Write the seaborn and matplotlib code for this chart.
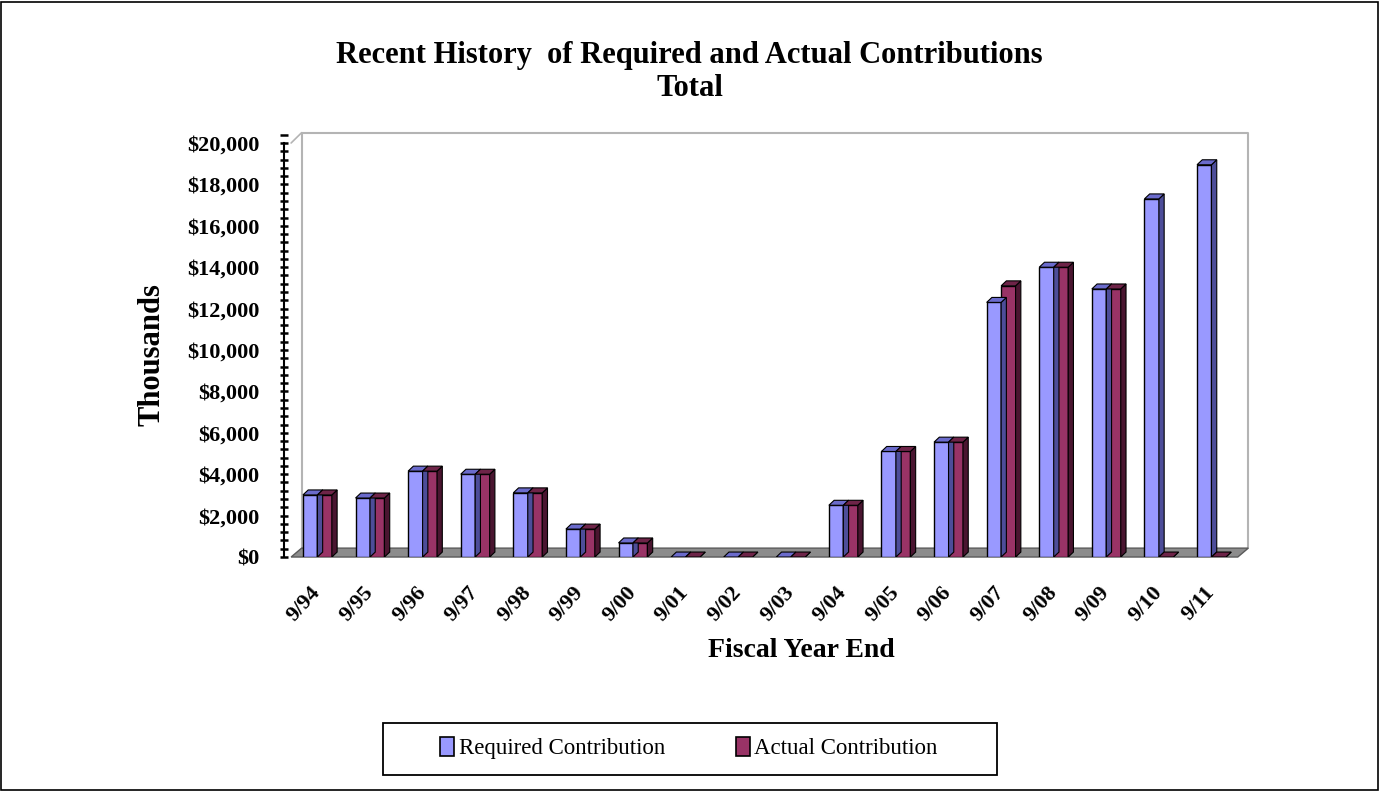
import pandas as pd
import matplotlib.pyplot as plt
import matplotlib.patches as mpatches
from matplotlib.ticker import MultipleLocator, FuncFormatter
import seaborn as sns

years = ["9/94", "9/95", "9/96", "9/97", "9/98", "9/99", "9/00", "9/01", "9/02",
         "9/03", "9/04", "9/05", "9/06", "9/07", "9/08", "9/09", "9/10", "9/11"]
required = [3000, 2850, 4150, 4000, 3100, 1350, 680, 0, 0,
            0, 2500, 5100, 5550, 12300, 14000, 12950, 17300, 18950]
actual = [3000, 2850, 4150, 4000, 3100, 1350, 680, 0, 0,
          0, 2500, 5100, 5550, 13100, 14000, 12950, 0, 0]
series_names = ["Required Contribution", "Actual Contribution"]

FRONT = ["#9999FF", "#993366"]
SIDE = ["#4D4D99", "#4A1530"]
TOP = ["#6B6BCC", "#6E2448"]

df = pd.DataFrame({
    "year": years * 2,
    "value": required + actual,
    "series": [series_names[0]] * len(years) + [series_names[1]] * len(years),
})

sns.set_style("white")
plt.rcParams["font.family"] = ["Liberation Serif", "DejaVu Serif"]
plt.rcParams["text.color"] = "black"
plt.rcParams["axes.labelcolor"] = "black"
plt.rcParams["xtick.color"] = "black"
plt.rcParams["ytick.color"] = "black"

fig = plt.figure(figsize=(13.79, 7.91), dpi=100)
ax = fig.add_axes([0.2111, 0.2958, 0.6865, 0.5365])

sns.barplot(data=df, x="year", y="value", hue="series", palette=FRONT,
            width=0.55, edgecolor="black", linewidth=1.0, saturation=1,
            legend=False, ax=ax, zorder=3)

ymax = 20500
ax.set_ylim(0, ymax)
ax.set_xlim(-0.5, len(years) - 0.5)

# 3D look: depth in data units
bdx, bdy = 0.1, 240      # bar depth
wdx, wdy = 0.2, 430      # wall / floor depth

# floor
x0, x1 = -0.5, len(years) - 0.5
floor = mpatches.Polygon([(x0, 0), (x1, 0), (x1 + wdx, wdy), (x0 + wdx, wdy)],
                         closed=True, facecolor="#8C8C8C", edgecolor="#5A5A5A",
                         lw=1, zorder=1, clip_on=False)
ax.add_patch(floor)
# back wall outline
ax.plot([x0 + wdx, x0 + wdx, x1 + wdx, x1 + wdx], [wdy, ymax, ymax, wdy],
        color="#B4B4B4", lw=1.5, zorder=0, clip_on=False)
ax.plot([x0, x0 + wdx], [20000, ymax], color="#B4B4B4", lw=1.2, zorder=0, clip_on=False)

for k, cont in enumerate(ax.containers):
    for bar in cont:
        bx, bw, bh = bar.get_x(), bar.get_width(), bar.get_height()
        side = mpatches.Polygon([(bx + bw, 0), (bx + bw + bdx, bdy),
                                 (bx + bw + bdx, bh + bdy), (bx + bw, bh)],
                                closed=True, facecolor=SIDE[k], edgecolor="black",
                                lw=0.8, zorder=3)
        top = mpatches.Polygon([(bx, bh), (bx + bw, bh), (bx + bw + bdx, bh + bdy),
                                (bx + bdx, bh + bdy)],
                               closed=True, facecolor=TOP[k], edgecolor="black",
                               lw=0.8, zorder=3)
        ax.add_patch(side)
        ax.add_patch(top)

for s in ["top", "right", "bottom"]:
    ax.spines[s].set_visible(False)
ax.spines["left"].set_color("black")
ax.spines["left"].set_linewidth(1.5)
ax.spines["left"].set_bounds(0, 20000)
ax.spines["left"].set_position(("outward", 5))

ax.yaxis.set_major_locator(MultipleLocator(2000))
ax.yaxis.set_minor_locator(MultipleLocator(400))
ax.yaxis.set_major_formatter(FuncFormatter(lambda v, p: f"${v:,.0f}"))
ax.tick_params(axis="y", which="both", direction="inout", length=6, width=1.8,
               left=True, labelsize=16, pad=15)
ax.tick_params(axis="x", length=0, labelsize=16, pad=23)
for lab in ax.get_yticklabels():
    lab.set_fontweight("bold")
for lab in ax.get_xticklabels():
    lab.set_fontweight("bold")
    lab.set_rotation(48)
    lab.set_ha("right")
    lab.set_va("center")
    lab.set_rotation_mode("anchor")

ax.set_xlabel("Fiscal Year End", fontsize=20, fontweight="bold")
ax.set_ylabel("Thousands", fontsize=22, fontweight="bold")
ax.xaxis.set_label_coords((801 - 291) / 947, (557 - 650) / 424.4,
                          transform=ax.transAxes)
ax.yaxis.set_label_coords((152 - 291) / 947, (557 - 355) / 424.4,
                          transform=ax.transAxes)
ax.xaxis.label.set_va("center")
ax.yaxis.label.set_va("center")
ax.grid(False)

fig.text(0.5, 1 - 55 / 791, "Recent History  of Required and Actual Contributions",
         ha="center", va="center", fontsize=22, fontweight="bold")
fig.text(0.5, 1 - 89 / 791, "Total",
         ha="center", va="center", fontsize=22, fontweight="bold")

handles = [mpatches.Patch(facecolor=FRONT[i], edgecolor="black", lw=1.2, label=series_names[i])
           for i in range(2)]
leg = fig.legend(handles=handles, loc="center", bbox_to_anchor=(689 / 1379, 1 - 748 / 791),
                 ncol=2, frameon=False, fontsize=16.5,
                 handlelength=0.6, handleheight=0.9, handletextpad=0.2,
                 columnspacing=3.1)
legend_box = mpatches.Rectangle((383 / 1379, 1 - 775 / 791), 614 / 1379, 52 / 791,
                                transform=fig.transFigure, fill=False,
                                edgecolor="black", lw=1.3)
fig.patches.append(legend_box)

border = mpatches.Rectangle((0.001, 0.001), 0.998, 0.997, transform=fig.transFigure,
                            fill=False, edgecolor="black", lw=1.2)
fig.patches.append(border)

fig.savefig("out.png", dpi=100)
